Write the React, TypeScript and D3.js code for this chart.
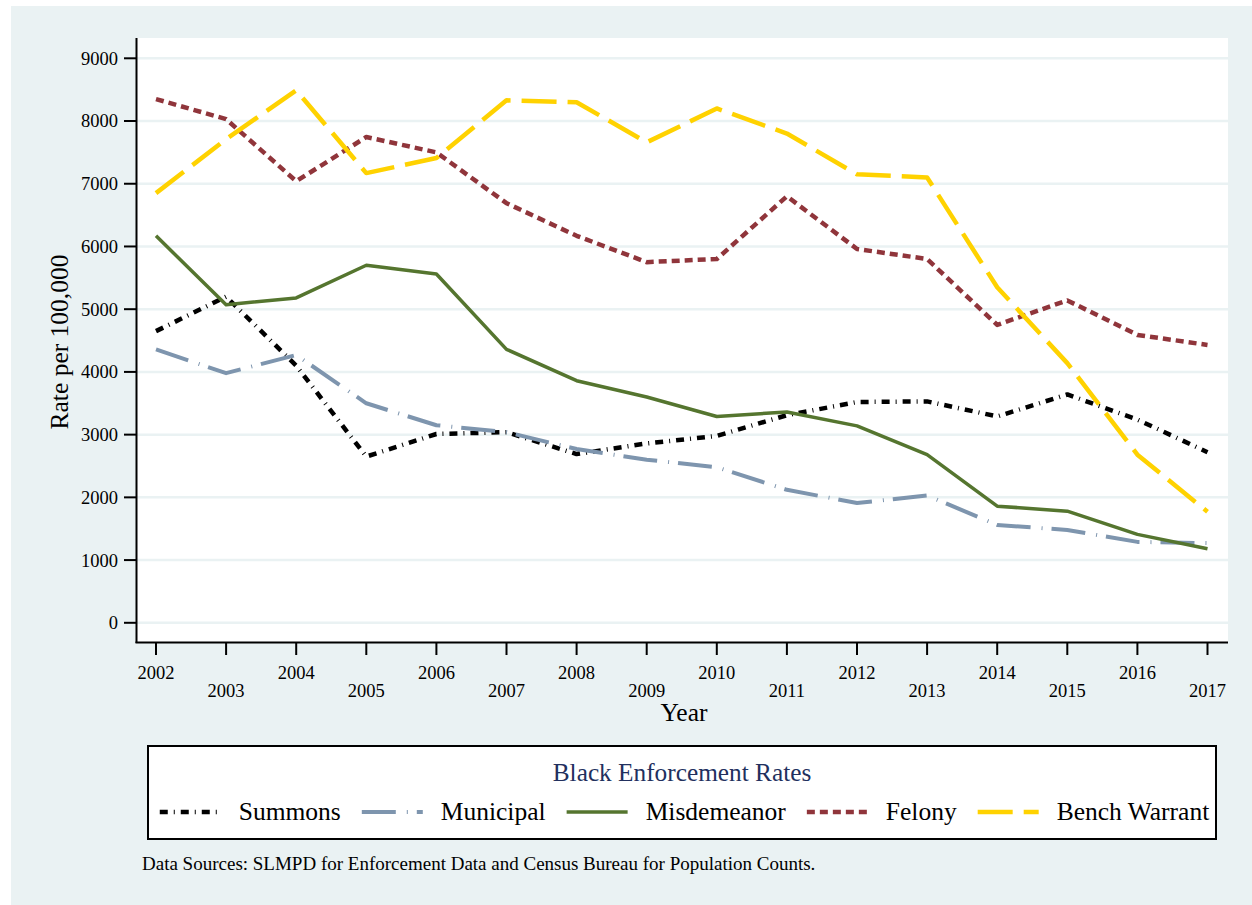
import React, { useEffect, useRef } from 'react';
import * as d3 from 'd3';

const years = [2002, 2003, 2004, 2005, 2006, 2007, 2008, 2009, 2010, 2011, 2012, 2013, 2014, 2015, 2016, 2017];
const summons = [4650, 5200, 4100, 2650, 3010, 3040, 2690, 2860, 2980, 3310, 3520, 3530, 3290, 3640, 3240, 2720];
const municipal = [4360, 3980, 4270, 3500, 3150, 3040, 2770, 2600, 2480, 2120, 1910, 2030, 1560, 1480, 1290, 1270];
const misdemeanor = [6170, 5070, 5180, 5700, 5560, 4360, 3860, 3600, 3290, 3360, 3140, 2680, 1860, 1780, 1410, 1180];
const felony = [8350, 8030, 7040, 7745, 7500, 6690, 6170, 5750, 5800, 6800, 5960, 5800, 4750, 5140, 4590, 4430];
const benchWarrant = [6850, 7710, 8490, 7170, 7410, 8330, 8300, 7660, 8200, 7800, 7150, 7100, 5350, 4140, 2680, 1770];
const seriesNames = ['Summons', 'Municipal', 'Misdemeanor', 'Felony', 'Bench Warrant'];
const yTicks = [0, 1000, 2000, 3000, 4000, 5000, 6000, 7000, 8000, 9000];

const styles = [
  { color: '#000000', width: 4.5, dash: '8,6,1,6' },
  { color: '#7E95AE', width: 4, dash: '34,11,1,9' },
  { color: '#55752F', width: 3.5, dash: null },
  { color: '#90353B', width: 4.5, dash: '8,5' },
  { color: '#FFD200', width: 4.5, dash: '35,11' },
];

export default function App() {
  const ref = useRef<SVGSVGElement>(null);

  useEffect(() => {
    document.body.style.margin = '0';
    if (!ref.current) return;
    const svg = d3.select(ref.current);
    svg.selectAll('*').remove();

    const W = 1252, H = 905;
    const font = "'Liberation Serif', 'Times New Roman', serif";
    const bg = '#EAF2F3';

    svg.append('rect').attr('width', W).attr('height', H).attr('fill', '#fff');
    svg.append('rect').attr('x', 11).attr('y', 6).attr('width', W - 11).attr('height', H - 6).attr('fill', bg);

    // plot region
    const left = 137, right = 1228, top = 38, bottom = 642;
    svg.append('rect').attr('x', left).attr('y', top).attr('width', right - left).attr('height', bottom - top).attr('fill', '#fff');

    const x = d3.scaleLinear().domain([2002, 2017]).range([156, 1207.5]);
    const y = d3.scaleLinear().domain([0, 9000]).range([622.8, 58.3]);

    // gridlines
    svg.append('g').selectAll('line').data(yTicks).join('line')
      .attr('x1', left).attr('x2', right)
      .attr('y1', d => y(d)).attr('y2', d => y(d))
      .attr('stroke', bg).attr('stroke-width', 2.5);

    // series
    const all = [summons, municipal, misdemeanor, felony, benchWarrant];
    const line = d3.line<number>().x((d, i) => x(years[i])).y(d => y(d));
    all.forEach((vals, k) => {
      const st = styles[k];
      svg.append('path')
        .attr('d', line(vals))
        .attr('fill', 'none')
        .attr('stroke', st.color)
        .attr('stroke-width', st.width)
        .attr('stroke-dasharray', st.dash ?? null)
        .attr('stroke-linejoin', 'round');
    });

    // y axis
    svg.append('line').attr('x1', left - 0.5).attr('x2', left - 0.5).attr('y1', top).attr('y2', bottom + 1)
      .attr('stroke', '#000').attr('stroke-width', 2);
    const yt = svg.append('g').selectAll('g').data(yTicks).join('g');
    yt.append('line').attr('x1', 124).attr('x2', left).attr('y1', d => y(d)).attr('y2', d => y(d))
      .attr('stroke', '#000').attr('stroke-width', 2);
    yt.append('text').attr('x', 118).attr('y', d => y(d)).attr('dy', '0.35em')
      .attr('text-anchor', 'end').attr('font-family', font).attr('font-size', 18.5).attr('fill', '#000')
      .text(d => String(d));

    // x axis
    svg.append('line').attr('x1', left - 1.5).attr('x2', right).attr('y1', bottom + 0.5).attr('y2', bottom + 0.5)
      .attr('stroke', '#000').attr('stroke-width', 2);
    const xt = svg.append('g').selectAll('g').data(years).join('g');
    xt.append('line').attr('x1', d => x(d)).attr('x2', d => x(d)).attr('y1', bottom).attr('y2', 655)
      .attr('stroke', '#000').attr('stroke-width', 2);
    xt.append('text').attr('x', d => x(d)).attr('y', (d, i) => (i % 2 === 0 ? 679 : 697))
      .attr('text-anchor', 'middle').attr('font-family', font).attr('font-size', 18.5).attr('fill', '#000')
      .text(d => String(d));

    // axis titles
    svg.append('text').attr('x', 684).attr('y', 721).attr('text-anchor', 'middle')
      .attr('font-family', font).attr('font-size', 25.5).text('Year');
    svg.append('text').attr('transform', 'translate(68,342) rotate(-90)').attr('text-anchor', 'middle')
      .attr('font-family', font).attr('font-size', 25.5).text('Rate per 100,000');

    // legend
    const lx = 148, ly = 746, lw = 1216 - 148, lh = 839 - 746;
    svg.append('rect').attr('x', lx).attr('y', ly).attr('width', lw).attr('height', lh)
      .attr('fill', '#fff').attr('stroke', '#000').attr('stroke-width', 2);
    svg.append('text').attr('x', 682).attr('y', 781).attr('text-anchor', 'middle')
      .attr('font-family', font).attr('font-size', 25.3).attr('fill', '#22305E')
      .text('Black Enforcement Rates');

    const keyW = 61, keyGap = 18, itemGap = 21;
    const items = seriesNames.map((name, k) => {
      const g = svg.append('g');
      const t = g.append('text').attr('font-family', font).attr('font-size', 25.5).attr('y', 820).text(name);
      const tw = (t.node() as SVGTextElement).getComputedTextLength();
      return { g, t, tw, k };
    });
    const total = items.reduce((s, it) => s + keyW + keyGap + it.tw, 0) + itemGap * (items.length - 1);
    let cx = 684.5 - total / 2;
    items.forEach(it => {
      const st = styles[it.k];
      it.g.append('line').attr('x1', cx).attr('x2', cx + keyW).attr('y1', 812).attr('y2', 812)
        .attr('stroke', st.color).attr('stroke-width', st.width)
        .attr('stroke-dasharray', st.dash ?? null);
      it.t.attr('x', cx + keyW + keyGap);
      cx += keyW + keyGap + it.tw + itemGap;
    });

    svg.append('text').attr('x', 142).attr('y', 870).attr('font-family', font).attr('font-size', 19)
      .text('Data Sources: SLMPD for Enforcement Data and Census Bureau for Population Counts.');
  }, []);

  return <svg ref={ref} width={1252} height={905} style={{ display: 'block' }} />;
}
